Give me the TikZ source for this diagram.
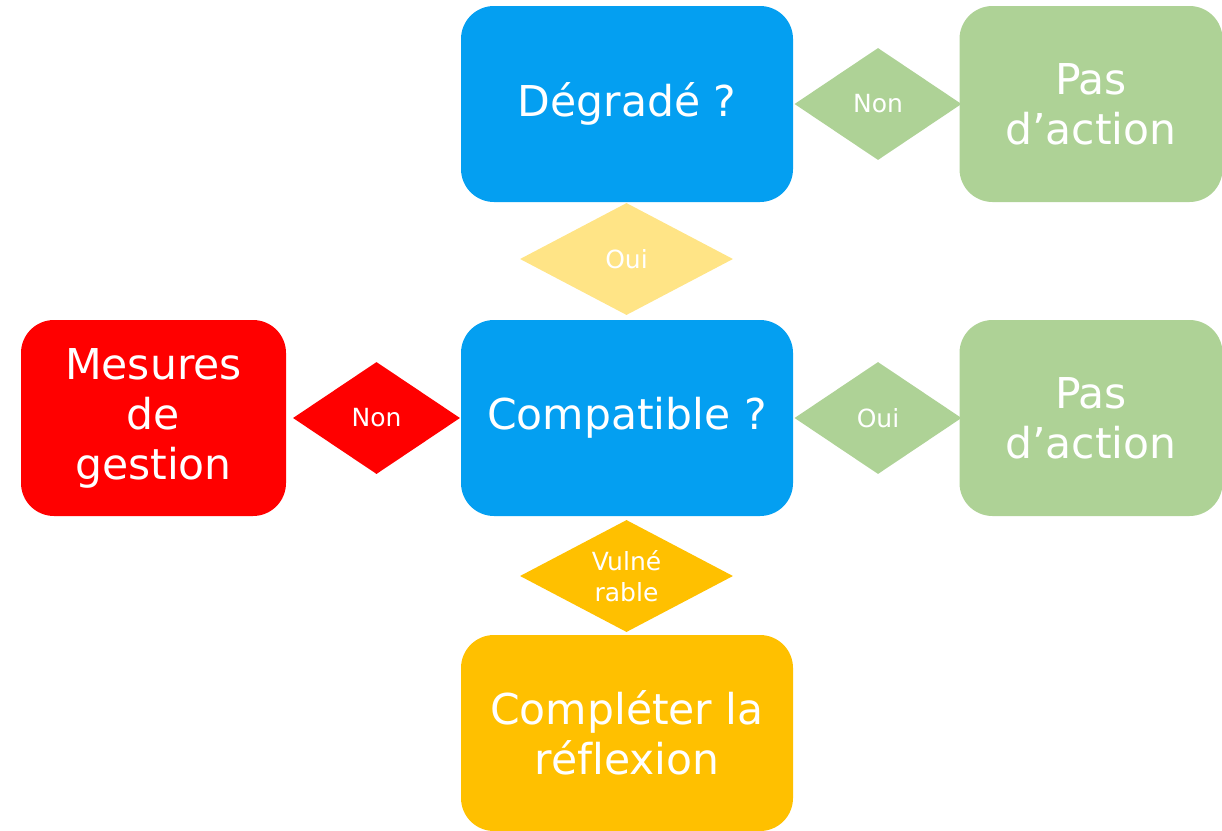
\documentclass[tikz,border=0pt]{standalone}
\usepackage{fontspec}
\setmainfont[Ligatures=NoCommon]{DejaVu Sans}
\usetikzlibrary{shapes.geometric}
\definecolor{cblue}{HTML}{049FF1}
\definecolor{cgreen}{HTML}{AED296}
\definecolor{cred}{HTML}{FF0000}
\definecolor{cpale}{HTML}{FFE486}
\definecolor{corange}{HTML}{FFC000}
\tikzset{
  stepbox/.style={rectangle, rounded corners=33pt, minimum width=332pt, minimum height=196pt, inner sep=0pt, text=white, align=center, font=\fontsize{42.5}{50}\selectfont},
  sidebox/.style={stepbox, minimum width=263pt},
  choice/.style={diamond, inner sep=0pt, minimum width=213pt, minimum height=112pt},
  smallchoice/.style={choice, minimum width=167pt},
  choicetext/.style={text=white, align=center, inner sep=0pt, font=\fontsize{25}{31}\selectfont}
}
\begin{document}
\begin{tikzpicture}[x=1pt,y=-1pt]
\useasboundingbox (0,0) rectangle (1222,830);
% boxes
\node[stepbox, fill=cblue] (deg) at (627,104) {Dégradé ?};
\node[stepbox, fill=cblue] (comp) at (627,418) {Compatible ?};
\node[stepbox, fill=corange] (compl) at (627,733) {Compléter la\\réflexion};
\node[sidebox, fill=cgreen] (pas1) at (1091,104) {Pas\\d’action};
\node[sidebox, fill=cgreen] (pas2) at (1091,418) {Pas\\d’action};
\node[sidebox, fill=cred, minimum width=265pt] (mes) at (153.5,418) {Mesures\\de\\gestion};
% diamonds
\node[smallchoice, fill=cgreen] (d1) at (878,104) {};
\node[choicetext] (t1) at (d1.center) {Non};
\node[choice, fill=cpale] (d2) at (626.5,259) {};
\node[choicetext] (t2) at (d2.center) {Oui};
\node[smallchoice, fill=cred] (d3) at (376.5,418) {};
\node[choicetext] (t3) at (d3.center) {Non};
\node[smallchoice, fill=cgreen] (d4) at (878,418) {};
\node[choicetext] (t4) at (d4.center) {Oui};
\node[choice, fill=corange] (d5) at (626.5,576) {};
\node[choicetext] (t5) at (d5.center) {Vulné\\rable};
\end{tikzpicture}
\end{document}
